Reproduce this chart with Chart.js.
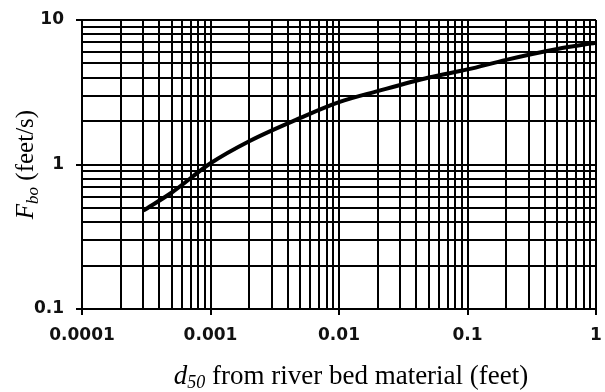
<!DOCTYPE html>
<html lang="en">
<head>
<meta charset="UTF-8">
<title>Fbo vs d50</title>
<style>
    html, body { margin: 0; padding: 0; background: #fff; }
    canvas { display: block; }
</style>
<script src="https://cdn.jsdelivr.net/npm/chart.js"></script>
</head>
<body>
<canvas id="fboChart" width="605" height="392"></canvas>
<script>
    // d50 (feet) and Fbo (feet/s)
    const d50Feet = [0.0003, 0.0005, 0.001, 0.002, 0.005, 0.01, 0.02, 0.05, 0.1, 0.2, 0.5, 1];
    const fboValues = [0.48, 0.64, 1.02, 1.45, 2.1, 2.7, 3.22, 4.0, 4.55, 5.3, 6.3, 6.95];

    // labelled decades on both axes
    const xDecades = [0.0001, 0.001, 0.01, 0.1, 1];
    const xTickLabels = ['0.0001', '0.001', '0.01', '0.1', '1'];
    const yDecades = [0.1, 1, 10];
    const yTickLabels = ['0.1', '1', '10'];
    const minorSteps = [1, 2, 3, 4, 5, 6, 7, 8, 9];

    // every 1..9 x 10^n value between the decades -> one grid line each
    function gridValues(decades) {
        const vals = [];
        for (let i = 0; i < decades.length - 1; i++) {
            minorSteps.forEach(k => vals.push(parseFloat((k * decades[i]).toPrecision(6))));
        }
        vals.push(decades[decades.length - 1]);
        return vals;
    }

    function decadeLabel(value, decades, labels) {
        const i = decades.findIndex(d => Math.abs(value - d) / d < 1e-6);
        return i >= 0 ? labels[i] : '';
    }

    const isDecade = (value, decades) => decades.some(d => Math.abs(value - d) / d < 1e-6);

    // axis titles with italic subscripts
    function drawRich(ctx, pieces, cx, baseline) {
        let total = 0;
        pieces.forEach(p => { ctx.font = p.font; p.w = ctx.measureText(p.text).width; total += p.w; });
        let x = cx - total / 2;
        pieces.forEach(p => {
            ctx.font = p.font;
            ctx.fillText(p.text, x, baseline + p.dy);
            x += p.w;
        });
    }

    const axisTitles = {
        id: 'axisTitles',
        afterDraw(chart) {
            const ctx = chart.ctx;
            const area = chart.chartArea;
            ctx.save();
            ctx.fillStyle = '#000';
            ctx.textBaseline = 'alphabetic';
            ctx.textAlign = 'left';
            drawRich(ctx, [
                { text: 'd', font: 'italic 27px "Liberation Serif"', dy: 0 },
                { text: '50', font: 'italic 18px "Liberation Serif"', dy: 4 },
                { text: ' from river bed material (feet)', font: '27px "Liberation Serif"', dy: 0 }
            ], (area.left + area.right) / 2 + 12, 384);

            ctx.translate(33, (area.top + area.bottom) / 2);
            ctx.rotate(-Math.PI / 2);
            drawRich(ctx, [
                { text: 'F', font: 'italic 25px "Liberation Serif"', dy: 0 },
                { text: 'bo', font: 'italic 17px "Liberation Serif"', dy: 5 },
                { text: ' (feet/s)', font: '25px "Liberation Serif"', dy: 0 }
            ], 0, 0);
            ctx.restore();
        }
    };

    const tickFont = { family: '"DejaVu Sans"', size: 17, weight: 'bold' };

    const ctx = document.getElementById('fboChart').getContext('2d');
    const fboChart = new Chart(ctx, {
        type: 'scatter',
        data: {
            datasets: [{
                data: d50Feet.map((d, i) => ({ x: d, y: fboValues[i] })),
                showLine: true,
                borderColor: '#000',
                borderWidth: 4,
                pointRadius: 0,
                cubicInterpolationMode: 'monotone'
            }]
        },
        options: {
            responsive: false,
            animation: false,
            devicePixelRatio: 1,
            layout: { padding: { top: 20, right: 0, left: 0, bottom: 0 } },
            plugins: { legend: { display: false }, tooltip: { enabled: false } },
            scales: {
                x: {
                    type: 'logarithmic',
                    min: xDecades[0],
                    max: xDecades[xDecades.length - 1],
                    afterBuildTicks: s => { s.ticks = gridValues(xDecades).map(v => ({ value: v })); },
                    afterFit: s => { s.height = 83; s.paddingRight = 9; },
                    grid: {
                        color: '#000',
                        lineWidth: 2,
                        tickLength: 6,
                        tickWidth: 2,
                        tickColor: c => (c.tick && isDecade(c.tick.value, xDecades)) ? '#000' : 'rgba(0,0,0,0)'
                    },
                    border: { color: '#000', width: 2 },
                    ticks: {
                        autoSkip: false,
                        maxRotation: 0,
                        padding: 10,
                        color: '#111',
                        font: tickFont,
                        callback: v => decadeLabel(v, xDecades, xTickLabels)
                    }
                },
                y: {
                    type: 'logarithmic',
                    min: yDecades[0],
                    max: yDecades[yDecades.length - 1],
                    afterBuildTicks: s => { s.ticks = gridValues(yDecades).map(v => ({ value: v })); },
                    afterFit: s => { s.width = 82; s.paddingTop = 0; },
                    grid: {
                        color: '#000',
                        lineWidth: 2,
                        tickLength: 6,
                        tickWidth: 2,
                        tickColor: c => (c.tick && isDecade(c.tick.value, yDecades)) ? '#000' : 'rgba(0,0,0,0)'
                    },
                    border: { color: '#000', width: 2 },
                    ticks: {
                        autoSkip: false,
                        padding: 12,
                        color: '#111',
                        font: tickFont,
                        callback: v => decadeLabel(v, yDecades, yTickLabels)
                    }
                }
            }
        },
        plugins: [axisTitles]
    });
</script>
</body>
</html>
